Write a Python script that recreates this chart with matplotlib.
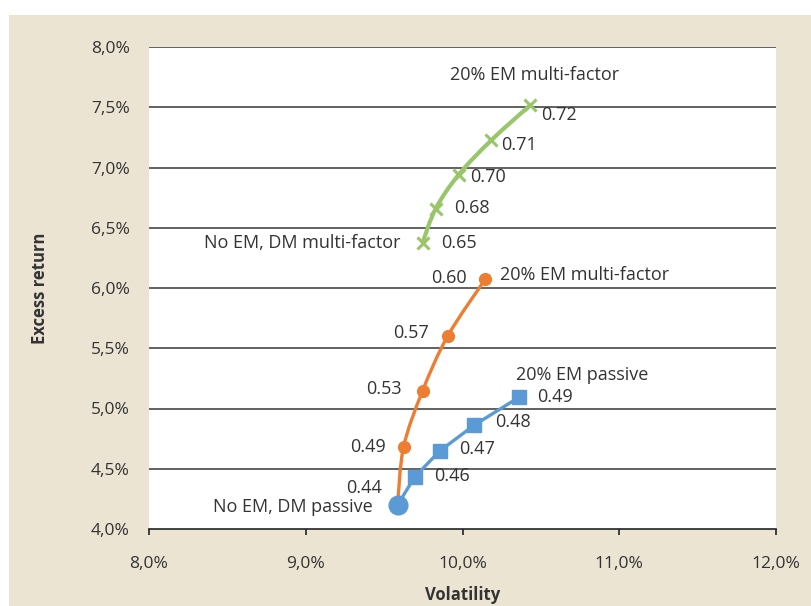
import numpy as np
import matplotlib.pyplot as plt
from matplotlib.path import Path
from matplotlib.patches import PathPatch, Rectangle
from matplotlib.ticker import FuncFormatter, MultipleLocator

plt.rcParams['font.family'] = ['Open Sans', 'DejaVu Sans']

# volatility / excess return in %, Sharpe ratios as labels
passive_vol = [9.586, 9.694, 9.854, 10.076, 10.363]
passive_ret = [4.20, 4.43, 4.647, 4.863, 5.095]
passive_sr = ['0.44', '0.46', '0.47', '0.48', '0.49']

mf_vol = [9.586, 9.624, 9.745, 9.905, 10.146]
mf_ret = [4.20, 4.68, 5.145, 5.60, 6.075]
mf_sr = ['0.44', '0.49', '0.53', '0.57', '0.60']

dmmf_vol = [9.745, 9.828, 9.975, 10.185, 10.433]
dmmf_ret = [6.373, 6.656, 6.94, 7.228, 7.519]
dmmf_sr = ['0.65', '0.68', '0.70', '0.71', '0.72']

BLUE = '#5b9bd5'
ORANGE = '#ed7d31'
GREEN = '#9ac66b'
TXT = '#333333'
BEIGE = '#ebe4d3'


def smooth_path(x, y):
    # excel-like smoothed line (catmull-rom as cubic bezier)
    pts = np.column_stack([x, y])
    n = len(pts)
    verts = [pts[0]]
    codes = [Path.MOVETO]
    for i in range(n - 1):
        p0 = pts[max(i - 1, 0)]
        p1 = pts[i]
        p2 = pts[i + 1]
        p3 = pts[min(i + 2, n - 1)]
        verts += [p1 + (p2 - p0) / 6, p2 - (p3 - p1) / 6, p2]
        codes += [Path.CURVE4] * 3
    return Path(verts, codes)


fig = plt.figure(figsize=(8.11, 6.06), dpi=100)
fig.patches.append(Rectangle((9 / 811, 0), 1, 591 / 606, transform=fig.transFigure,
                             facecolor=BEIGE, edgecolor='none', zorder=-10))
ax = fig.add_axes([149 / 811, 77 / 606, 627 / 811, 482 / 606])
ax.set_facecolor('white')

ax.set_xlim(8, 12)
ax.set_ylim(4, 8)
ax.xaxis.set_major_locator(MultipleLocator(1))
ax.yaxis.set_major_locator(MultipleLocator(0.5))
fmt = FuncFormatter(lambda v, _: f"{v:.1f}%".replace('.', ','))
ax.xaxis.set_major_formatter(fmt)
ax.yaxis.set_major_formatter(fmt)

for s in ['top', 'right', 'left']:
    ax.spines[s].set_visible(False)
ax.spines['bottom'].set_color('#222222')
ax.spines['bottom'].set_linewidth(1.2)
ax.spines['bottom'].set_zorder(1)
ax.tick_params(axis='x', direction='out', length=4.5, width=1.2, color='#222222',
               pad=15, labelsize=12.5, labelcolor=TXT)
ax.tick_params(axis='y', length=0, pad=14, labelsize=12.5, labelcolor=TXT)
for yv in np.arange(4.5, 8.01, 0.5):
    ax.axhline(yv, color='#555555', lw=1.3, zorder=0.5)

ax.set_xlabel('Volatility', fontsize=12, fontweight='bold', color=TXT, labelpad=10)
ax.set_ylabel('Excess return', fontsize=12, fontweight='bold', color=TXT, labelpad=30)

# green: DM multi-factor -> 20% EM multi-factor
ax.add_patch(PathPatch(smooth_path(dmmf_vol, dmmf_ret), facecolor='none',
                       edgecolor=GREEN, lw=3, zorder=3))
ax.plot(dmmf_vol, dmmf_ret, ls='none', marker='x', ms=9, mew=2.2, color=GREEN, zorder=4)

# orange: passive -> 20% EM multi-factor
ax.add_patch(PathPatch(smooth_path(mf_vol, mf_ret), facecolor='none',
                       edgecolor=ORANGE, lw=2.4, zorder=3))
ax.plot(mf_vol[1:], mf_ret[1:], ls='none', marker='o', ms=8.5, color=ORANGE, zorder=4)

# blue: passive -> 20% EM passive
ax.plot(passive_vol, passive_ret, color=BLUE, lw=2.4, zorder=3)
ax.plot(passive_vol[1:], passive_ret[1:], ls='none', marker='s', ms=9.5, color=BLUE, zorder=4)
ax.plot(passive_vol[0], passive_ret[0], marker='o', ms=13.5, color=BLUE, zorder=5)

kw = dict(textcoords='offset pixels', fontsize=13, color=TXT, va='center')

green_off = [(19, 0), (19, 1), (12, -2), (10, -5), (11, -10)]
for x, y, s, o in zip(dmmf_vol, dmmf_ret, dmmf_sr, green_off):
    ax.annotate(s, (x, y), xytext=o, ha='left', **kw)
ax.annotate('20% EM multi-factor', (dmmf_vol[-1], dmmf_ret[-1]), xytext=(4, 30), ha='center', **kw)
ax.annotate('No EM, DM multi-factor', (dmmf_vol[0], dmmf_ret[0]), xytext=(-22, 0), ha='right', **kw)

orange_off = [(-16, 17), (-18, 0), (-21, 2), (-19, 3), (-19, 1)]
for x, y, s, o in zip(mf_vol, mf_ret, mf_sr, orange_off):
    ax.annotate(s, (x, y), xytext=o, ha='right', **kw)
ax.annotate('20% EM multi-factor', (mf_vol[-1], mf_ret[-1]), xytext=(15, 4), ha='left', **kw)

blue_off = [(20, 1), (20, 2), (21, 3), (18, 0)]
for x, y, s, o in zip(passive_vol[1:], passive_ret[1:], passive_sr[1:], blue_off):
    ax.annotate(s, (x, y), xytext=o, ha='left', **kw)
ax.annotate('20% EM passive', (passive_vol[-1], passive_ret[-1]), xytext=(-3, 22), ha='left', **kw)
ax.annotate('No EM, DM passive', (passive_vol[0], passive_ret[0]), xytext=(-25, -2), ha='right', **kw)

fig.savefig('out.png', dpi=100, facecolor='white')
